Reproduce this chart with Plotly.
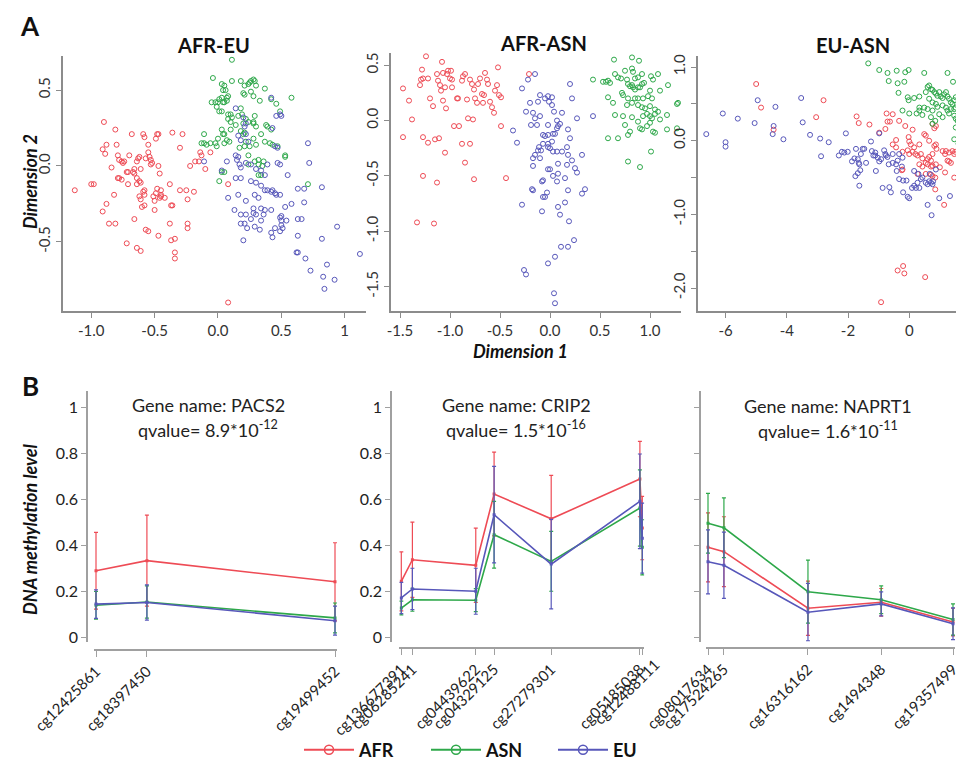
import plotly.graph_objects as go

W, H = 964, 772
RED, GREEN, BLUE = "#EE4B55", "#2EA84A", "#5757BA"
FONT = "Lato"

# ---------------- Panel A: MDS scatter data (Dimension 1, Dimension 2) ----------------
afr_eu_AFR = [(-1.13,-0.16),(-1.00,-0.12),(-0.98,-0.12),(-0.90,0.29),(-0.91,0.11),(-0.89,0.08),(-0.88,0.14),(-0.91,-0.30),(-0.88,-0.25),(-0.86,-0.38),(-0.81,-0.38),(-0.84,-0.01),(-0.81,0.24),(-0.80,0.14),(-0.82,-0.19),(-0.79,0.07),(-0.78,0.04),(-0.76,0.03),(-0.79,-0.08),(-0.78,-0.08),(-0.76,-0.09),(-0.75,0.02),(-0.74,0.03),(-0.72,-0.04),(-0.70,0.07),(-0.71,-0.04),(-0.71,-0.12),(-0.68,0.21),(-0.67,-0.04),(-0.66,-0.05),(-0.66,-0.02),(-0.64,0.03),(-0.64,-0.12),(-0.64,-0.08),(-0.63,0.05),(-0.62,0.06),(-0.62,-0.10),(-0.61,-0.11),(-0.61,-0.02),(-0.59,-0.17),(-0.59,0.21),(-0.58,0.19),(-0.58,-0.19),(-0.57,0.05),(-0.55,0.14),(-0.66,-0.35),(-0.72,-0.51),(-0.64,-0.54),(-0.61,-0.56),(-0.62,-0.20),(-0.61,-0.22),(-0.60,-0.27),(-0.58,-0.16),(-0.57,-0.42),(-0.55,-0.43),(-0.58,-0.26),(-0.55,0.09),(-0.54,0.06),(-0.53,0.04),(-0.53,0.01),(-0.52,0.02),(-0.51,-0.20),(-0.50,-0.23),(-0.49,-0.18),(-0.48,-0.15),(-0.50,-0.29),(-0.48,0.21),(-0.49,0.18),(-0.47,0.21),(-0.47,0.00),(-0.46,-0.05),(-0.45,-0.16),(-0.46,-0.21),(-0.45,-0.19),(-0.45,-0.20),(-0.47,-0.46),(-0.42,-0.21),(-0.38,-0.12),(-0.37,-0.26),(-0.38,-0.38),(-0.37,-0.49),(-0.36,-0.26),(-0.34,-0.48),(-0.36,0.22),(-0.34,-0.57),(-0.34,-0.61),(-0.30,-0.16),(-0.30,0.12),(-0.28,0.21),(-0.25,-0.16),(-0.24,-0.22),(-0.24,-0.38),(-0.24,-0.41),(-0.22,0.00),(-0.19,-0.17),(-0.18,0.03),(-0.15,0.03),(-0.14,0.09),(-0.13,0.07),(-0.10,-0.02),(-0.06,0.09),(0.08,-0.12),(0.08,-0.90)]
afr_eu_ASN = [(0.11,0.70),(-0.04,0.58),(0.03,0.54),(0.04,0.50),(0.05,0.53),(0.06,0.50),(0.11,0.56),(0.18,0.56),(0.21,0.53),(0.24,0.54),(0.25,0.55),(0.26,0.56),(0.28,0.57),(0.29,0.56),(0.30,0.53),(0.37,0.51),(0.26,0.49),(0.20,0.48),(0.21,0.47),(0.28,0.46),(0.33,0.43),(0.42,0.44),(0.46,0.41),(0.58,0.45),(0.49,0.36),(-0.05,0.42),(-0.02,0.42),(0.00,0.42),(0.01,0.44),(0.03,0.45),(0.04,0.42),(0.05,0.42),(0.07,0.43),(0.07,0.45),(0.08,0.46),(-0.01,0.39),(0.01,0.36),(0.03,0.36),(0.08,0.34),(0.10,0.34),(0.08,0.31),(0.10,0.29),(0.11,0.32),(0.14,0.27),(0.16,0.33),(0.18,0.38),(0.19,0.34),(0.20,0.28),(0.22,0.31),(0.24,0.29),(0.29,0.33),(0.28,0.29),(0.28,0.28),(0.30,0.26),(0.38,0.27),(0.39,0.26),(0.42,0.24),(0.18,0.23),(0.20,0.21),(0.21,0.22),(0.22,0.16),(0.10,0.24),(0.03,0.24),(0.04,0.21),(0.05,0.21),(0.07,0.17),(0.05,0.15),(0.00,0.18),(-0.02,0.15),(-0.01,0.13),(-0.06,0.15),(-0.09,0.14),(-0.11,0.15),(-0.11,0.21),(-0.13,0.15),(0.09,0.16),(0.17,0.12),(0.21,0.13),(0.25,0.13),(0.28,0.18),(0.30,0.14),(0.34,0.21),(0.37,0.16),(0.41,0.15),(0.43,0.14),(0.47,0.13),(0.53,0.07),(0.53,0.06),(0.29,0.03),(0.32,0.04),(0.36,0.03),(0.32,0.01),(0.35,0.00),(0.32,-0.06),(0.34,-0.06),(0.24,0.07),(0.24,0.01),(0.05,-0.04),(0.01,-0.10),(0.71,-0.12),(0.03,-0.04)]
afr_eu_EU = [(0.42,0.45),(0.49,0.34),(0.46,0.33),(0.50,0.33),(0.43,0.25),(0.22,0.28),(0.14,0.38),(0.20,0.32),(0.21,0.26),(0.22,0.21),(0.16,0.20),(0.18,0.17),(0.24,0.16),(0.45,0.13),(0.47,0.12),(0.71,0.15),(0.72,0.02),(-0.11,0.03),(0.03,-0.03),(0.07,0.03),(0.14,0.07),(0.16,0.06),(0.15,0.04),(0.17,0.01),(0.18,-0.01),(0.22,0.02),(0.26,0.01),(0.30,-0.02),(0.34,-0.03),(0.37,-0.06),(0.39,0.01),(0.47,0.02),(0.49,0.01),(0.55,-0.06),(0.63,-0.15),(0.68,-0.15),(0.82,-0.14),(0.14,-0.08),(0.18,-0.08),(0.26,-0.10),(0.30,-0.11),(0.34,-0.13),(0.37,-0.16),(0.39,-0.16),(0.42,-0.17),(0.43,-0.16),(0.45,-0.18),(0.46,-0.19),(0.49,-0.19),(0.08,-0.21),(0.16,-0.19),(0.22,-0.23),(0.28,-0.28),(0.34,-0.28),(0.30,-0.32),(0.28,-0.31),(0.36,-0.32),(0.37,-0.29),(0.42,-0.29),(0.53,-0.27),(0.58,-0.25),(0.18,-0.32),(0.22,-0.32),(0.18,-0.38),(0.23,-0.41),(0.33,-0.42),(0.42,-0.44),(0.45,-0.41),(0.49,-0.43),(0.50,-0.36),(0.49,-0.34),(0.50,-0.33),(0.54,-0.36),(0.63,-0.35),(0.66,-0.35),(0.68,-0.24),(0.82,-0.48),(0.63,-0.46),(0.63,-0.57),(0.62,-0.57),(0.69,-0.61),(0.73,-0.69),(0.83,-0.73),(0.86,-0.65),(0.92,-0.75),(0.84,-0.81),(0.94,-0.40),(1.12,-0.58),(0.50,-0.39),(0.51,-0.41),(0.43,-0.47),(0.34,-0.36),(0.29,-0.40),(0.20,-0.49),(0.21,-0.38),(0.13,-0.29),(0.26,-0.35),(0.29,-0.19),(0.32,-0.21)]

afr_asn_AFR = [(-1.24,0.58),(-1.08,0.53),(-1.28,0.46),(-1.47,0.29),(-1.41,0.18),(-1.38,0.01),(-1.47,-0.15),(-1.29,0.37),(-1.30,0.32),(-1.27,0.38),(-1.22,0.38),(-1.20,0.20),(-1.17,0.13),(-1.13,0.42),(-1.12,0.36),(-1.10,0.32),(-1.09,0.27),(-1.07,0.43),(-1.07,0.18),(-1.05,0.30),(-1.04,0.11),(-1.03,0.42),(-1.02,0.45),(-1.00,0.38),(-0.99,0.45),(-0.98,0.37),(-0.98,0.30),(-0.96,-0.05),(-0.93,0.20),(-0.92,0.20),(-0.91,-0.05),(-0.88,0.36),(-0.87,0.40),(-0.85,0.42),(-0.83,0.19),(-0.82,0.02),(-0.80,0.37),(-0.78,0.33),(-0.77,0.01),(-0.76,0.28),(-0.75,0.20),(-0.73,0.16),(-0.72,0.33),(-0.70,0.38),(-0.68,0.24),(-0.67,0.16),(-0.66,0.23),(-0.65,0.43),(-0.63,0.37),(-0.62,0.33),(-0.60,0.17),(-0.58,0.12),(-0.56,0.07),(-0.55,0.27),(-0.53,0.32),(-0.52,0.48),(-0.51,0.23),(-0.49,0.21),(-0.49,-0.05),(-1.27,-0.15),(-1.22,-0.20),(-1.15,-0.17),(-1.11,-0.16),(-1.05,-0.29),(-0.88,-0.21),(-0.85,-0.38),(-0.80,-0.21),(-0.76,-0.53),(-1.27,-0.50),(-1.13,-0.56),(-0.44,-0.52),(-1.33,-0.92),(-1.16,-0.93),(-0.21,0.42)]
afr_asn_ASN = [(0.64,0.55),(0.82,0.57),(0.89,0.54),(0.65,0.42),(0.75,0.45),(0.82,0.47),(0.83,0.44),(0.92,0.42),(1.01,0.40),(1.08,0.42),(0.43,0.37),(0.53,0.35),(0.56,0.35),(0.58,0.36),(0.60,0.34),(0.68,0.39),(0.71,0.38),(0.77,0.37),(0.85,0.38),(0.88,0.39),(1.03,0.37),(1.18,0.32),(0.78,0.33),(0.80,0.31),(0.82,0.32),(0.83,0.30),(0.85,0.28),(0.88,0.30),(0.90,0.30),(0.92,0.33),(0.94,0.34),(1.00,0.27),(1.10,0.27),(0.72,0.25),(0.73,0.23),(0.78,0.20),(0.85,0.20),(0.88,0.20),(0.93,0.20),(0.98,0.22),(1.02,0.20),(0.58,0.21),(0.63,0.16),(0.77,0.14),(0.82,0.16),(0.88,0.14),(0.92,0.12),(0.95,0.11),(1.00,0.13),(1.05,0.10),(1.08,0.08),(1.27,0.15),(1.28,0.16),(0.65,0.05),(0.73,0.04),(0.82,0.03),(0.88,-0.01),(0.93,0.04),(0.97,0.06),(1.00,0.04),(1.02,0.02),(1.05,0.06),(1.10,0.01),(1.17,0.05),(0.75,-0.04),(0.80,-0.10),(0.90,-0.07),(0.92,-0.08),(0.97,-0.05),(1.00,-0.02),(1.03,-0.10),(1.05,-0.11),(1.17,-0.08),(1.27,-0.07),(0.58,-0.16),(0.68,-0.16),(0.78,-0.13),(0.78,-0.37),(0.90,-0.42),(1.01,-0.28)]
afr_asn_EU = [(-0.15,0.42),(-0.22,0.37),(-0.28,0.29),(0.20,0.33),(-0.10,0.23),(-0.02,0.22),(0.02,0.21),(-0.05,0.20),(-0.01,0.17),(-0.12,0.17),(0.02,0.14),(-0.20,0.16),(0.22,0.20),(-0.24,0.08),(-0.17,0.07),(-0.15,0.02),(-0.10,0.04),(0.04,0.08),(0.12,0.07),(0.27,0.02),(-0.19,-0.04),(-0.13,-0.04),(-0.02,-0.04),(0.07,0.00),(0.10,-0.03),(-0.37,-0.09),(-0.07,-0.13),(-0.05,-0.14),(-0.02,-0.13),(0.03,-0.12),(0.05,-0.12),(0.07,-0.07),(0.08,-0.05),(0.18,-0.08),(-0.33,-0.20),(0.20,-0.16),(-0.07,-0.21),(-0.02,-0.21),(0.02,-0.19),(-0.11,-0.24),(-0.12,-0.27),(-0.09,-0.27),(-0.02,-0.24),(0.00,-0.25),(0.03,-0.28),(0.07,-0.28),(0.12,-0.28),(0.17,-0.24),(-0.15,-0.31),(-0.17,-0.34),(-0.10,-0.34),(0.18,-0.31),(0.22,-0.36),(0.32,-0.31),(-0.17,-0.41),(-0.02,-0.44),(0.00,-0.44),(0.08,-0.39),(0.17,-0.40),(0.25,-0.43),(0.27,-0.47),(0.03,-0.50),(0.08,-0.48),(0.15,-0.52),(-0.08,-0.55),(-0.07,-0.54),(0.07,-0.55),(-0.18,-0.62),(-0.17,-0.63),(-0.03,-0.65),(0.18,-0.63),(0.32,-0.66),(0.35,-0.62),(-0.07,-0.69),(-0.05,-0.69),(-0.28,-0.76),(-0.08,-0.82),(0.08,-0.78),(0.15,-0.74),(0.10,-0.85),(0.19,-0.91),(0.24,-1.08),(0.11,-1.14),(0.18,-1.14),(0.05,-1.23),(-0.02,-1.29),(-0.26,-1.35),(-0.24,-1.39),(0.04,-1.56),(0.05,-1.65),(0.43,0.04)]

eu_asn_AFR = [(-5.00,0.77),(-4.84,0.45),(-4.43,0.15),(-2.80,0.55),(-3.04,0.32),(-1.72,0.33),(-1.65,0.24),(-1.30,0.22),(-0.98,0.11),(-0.74,0.37),(-0.54,0.36),(-0.71,0.26),(-0.63,0.26),(-0.78,0.16),(-0.33,0.27),(-0.13,0.20),(0.11,0.15),(0.76,0.23),(0.82,0.17),(0.87,0.20),(-0.43,0.01),(-0.02,0.05),(0.00,-0.01),(0.05,-0.05),(0.16,-0.09),(0.33,-0.05),(0.49,0.09),(0.54,0.07),(0.65,0.00),(-0.54,-0.05),(-0.43,-0.09),(-0.22,-0.15),(-0.05,-0.13),(0.00,-0.18),(0.11,-0.15),(0.20,-0.18),(0.27,-0.20),(0.38,-0.18),(0.43,-0.24),(0.60,-0.25),(0.65,-0.22),(0.71,-0.27),(0.76,-0.18),(0.82,-0.07),(0.87,-0.05),(0.89,-0.11),(1.09,-0.14),(1.17,-0.18),(1.20,-0.14),(1.30,-0.16),(1.41,-0.14),(1.47,-0.18),(1.50,-0.15),(0.54,-0.30),(0.60,-0.32),(0.76,-0.34),(0.87,-0.32),(1.25,-0.27),(1.30,-0.28),(1.36,-0.30),(0.33,-0.32),(0.43,-0.35),(0.71,-0.35),(1.00,-0.36),(1.17,-0.43),(-0.22,-0.39),(-0.24,-0.40),(0.27,-0.45),(0.54,-0.45),(0.71,-0.46),(0.76,-0.48),(0.85,-0.50),(1.47,-0.50),(1.90,-0.52),(0.85,-0.66),(1.14,-0.87),(1.63,-0.83),(-0.20,-1.70),(-0.38,-1.76),(-0.16,-1.80),(0.52,-1.85),(-0.92,-2.19)]
eu_asn_ASN = [(-1.34,1.05),(-0.98,0.96),(-0.71,0.92),(-0.41,0.95),(-0.13,0.93),(-0.02,0.96),(-0.67,0.81),(-0.38,0.78),(-0.16,0.80),(0.49,0.92),(1.25,0.92),(1.43,0.80),(-0.35,0.65),(-0.05,0.59),(-0.02,0.55),(0.16,0.58),(0.33,0.60),(0.54,0.66),(0.60,0.73),(0.65,0.75),(0.71,0.70),(0.76,0.69),(0.82,0.66),(0.87,0.64),(0.92,0.61),(0.98,0.66),(1.03,0.60),(1.09,0.58),(1.14,0.63),(1.20,0.66),(1.25,0.60),(1.30,0.57),(1.36,0.52),(1.41,0.50),(1.47,0.55),(1.52,0.59),(0.65,0.57),(0.76,0.52),(0.87,0.50),(0.92,0.46),(1.09,0.48),(1.20,0.45),(1.25,0.41),(1.36,0.43),(1.47,0.43),(1.52,0.45),(0.33,0.45),(0.49,0.45),(0.60,0.43),(0.76,0.41),(-0.22,0.41),(0.00,0.37),(0.24,0.37),(0.43,0.35),(0.98,0.36),(1.09,0.32),(1.30,0.37),(1.47,0.34),(1.52,0.30),(1.58,0.27),(1.63,0.25),(1.68,0.23),(1.74,0.27),(1.85,0.25),(0.71,0.32),(0.85,0.27),(1.52,0.18),(1.63,0.16),(1.47,0.02),(1.61,-0.04),(0.76,0.23),(0.33,0.41)]
eu_asn_EU = [(-6.63,0.09),(-6.09,0.37),(-6.00,-0.02),(-6.00,-0.08),(-5.60,0.30),(-5.05,0.24),(-4.95,0.55),(-4.46,0.09),(-4.43,0.20),(-4.37,0.46),(-4.11,0.02),(-3.53,0.58),(-3.48,0.25),(-3.24,0.08),(-2.91,0.03),(-2.88,-0.21),(-2.63,-0.02),(-2.30,-0.20),(-2.20,-0.15),(-2.12,-0.16),(-2.01,-0.15),(-2.07,0.10),(-1.87,-0.28),(-1.79,-0.24),(-1.74,-0.11),(-1.68,-0.25),(-1.65,-0.30),(-1.63,-0.32),(-1.58,-0.18),(-1.52,-0.11),(-1.47,-0.11),(-1.41,-0.30),(-1.60,-0.40),(-1.68,-0.44),(-1.76,-0.48),(-1.63,-0.61),(-1.25,-0.01),(-1.22,-0.14),(-1.17,-0.20),(-1.11,-0.20),(-1.03,-0.23),(-0.98,-0.28),(-0.92,-0.25),(-0.82,-0.13),(-0.78,-0.18),(-0.76,-0.20),(-0.71,-0.22),(-0.67,-0.32),(-0.54,-0.30),(-0.43,-0.32),(-0.38,-0.27),(-0.41,-0.41),(-0.24,-0.35),(-0.33,-0.52),(-0.20,-0.54),(-0.09,-0.54),(-1.09,-0.41),(-0.87,-0.64),(-0.65,-0.63),(-0.60,-0.70),(-0.20,-0.70),(-0.05,-0.76),(0.00,-0.78),(0.09,-0.64),(0.16,-0.61),(0.22,-0.64),(0.16,-0.41),(0.30,-0.45),(0.38,-0.52),(0.43,-0.50),(0.54,-0.57),(0.60,-0.59),(0.65,-0.55),(0.71,-0.57),(0.76,-0.59),(0.78,-0.55),(0.27,-0.57),(0.33,-0.64),(0.67,-0.45),(0.87,-0.39),(0.98,-0.78),(1.33,-0.75),(0.60,-0.87),(0.73,-1.01),(-0.22,-0.23),(-0.33,-0.18),(-0.54,-0.18),(-0.98,0.10),(-1.11,-0.16)]

# ---------------- Panel B: methylation level per probe ----------------
pacs2_probes = ["cg12425861", "cg18397450", "cg19499452"]
pacs2_pos = [0.0, 0.213, 1.0]
pacs2_AFR = [0.288, 0.332, 0.240]; pacs2_AFR_sd = [0.167, 0.198, 0.170]
pacs2_ASN = [0.138, 0.152, 0.083]; pacs2_ASN_sd = [0.060, 0.070, 0.065]
pacs2_EU = [0.143, 0.150, 0.071];  pacs2_EU_sd = [0.062, 0.077, 0.063]

crip2_probes = ["cg136677391", "cg06285241", "cg04439622", "cg04329125", "cg27279301", "cg05185038", "cg12488111"]
crip2_pos = [0.0, 0.046, 0.309, 0.385, 0.622, 0.990, 1.0]
crip2_AFR = [0.242, 0.336, 0.312, 0.622, 0.514, 0.687, 0.474]; crip2_AFR_sd = [0.128, 0.164, 0.162, 0.182, 0.189, 0.164, 0.138]
crip2_ASN = [0.126, 0.162, 0.160, 0.445, 0.329, 0.561, 0.390]; crip2_ASN_sd = [0.030, 0.050, 0.050, 0.145, 0.130, 0.166, 0.120]
crip2_EU = [0.170, 0.209, 0.199, 0.532, 0.317, 0.590, 0.430];  crip2_EU_sd = [0.068, 0.090, 0.100, 0.210, 0.195, 0.206, 0.152]

naprt1_probes = ["cg08017634", "cg17524265", "cg16316162", "cg1494348", "cg19357499"]
naprt1_pos = [0.0, 0.065, 0.408, 0.707, 1.0]
naprt1_AFR = [0.390, 0.371, 0.125, 0.151, 0.065]; naprt1_AFR_sd = [0.150, 0.152, 0.118, 0.060, 0.060]
naprt1_ASN = [0.495, 0.475, 0.197, 0.162, 0.076]; naprt1_ASN_sd = [0.130, 0.130, 0.137, 0.060, 0.068]
naprt1_EU = [0.327, 0.312, 0.108, 0.144, 0.058];  naprt1_EU_sd = [0.139, 0.144, 0.125, 0.052, 0.069]

y_ticks_B = [0, 0.2, 0.4, 0.6, 0.8, 1]
y_ticktext_B = ["0", "0.2", "0.4", "0.6", "0.8", "1"]

groups = ["AFR", "ASN", "EU"]
colors = {"AFR": RED, "ASN": GREEN, "EU": BLUE}

def px_x(p):
    return p / W

def px_y(p):
    return 1 - p / H

fig = go.Figure()

# Panel A scatter traces
panelA = [
    ("", {"AFR": afr_eu_AFR, "ASN": afr_eu_ASN, "EU": afr_eu_EU}),
    ("2", {"AFR": afr_asn_AFR, "ASN": afr_asn_ASN, "EU": afr_asn_EU}),
    ("3", {"AFR": eu_asn_AFR, "ASN": eu_asn_ASN, "EU": eu_asn_EU}),
]
for suffix, d in panelA:
    for g in groups:
        pts = d[g]
        fig.add_trace(go.Scatter(
            x=[p[0] for p in pts], y=[p[1] for p in pts], mode="markers",
            marker=dict(symbol="circle-open", size=5, color=colors[g], line=dict(width=1, color=colors[g])),
            xaxis="x" + suffix, yaxis="y" + suffix, showlegend=False, hoverinfo="skip"))

# Panel B line traces
panelB = [
    ("4", pacs2_pos, {"AFR": (pacs2_AFR, pacs2_AFR_sd), "ASN": (pacs2_ASN, pacs2_ASN_sd), "EU": (pacs2_EU, pacs2_EU_sd)}),
    ("5", crip2_pos, {"AFR": (crip2_AFR, crip2_AFR_sd), "ASN": (crip2_ASN, crip2_ASN_sd), "EU": (crip2_EU, crip2_EU_sd)}),
    ("6", naprt1_pos, {"AFR": (naprt1_AFR, naprt1_AFR_sd), "ASN": (naprt1_ASN, naprt1_ASN_sd), "EU": (naprt1_EU, naprt1_EU_sd)}),
]
for suffix, pos, d in panelB:
    for g in groups:
        m, sd = d[g]
        fig.add_trace(go.Scatter(
            x=pos, y=m, mode="lines+markers",
            line=dict(color=colors[g], width=1.6),
            marker=dict(symbol="square", size=3, color=colors[g]),
            error_y=dict(type="data", array=sd, visible=True, color=colors[g], thickness=1.2, width=2),
            xaxis="x" + suffix, yaxis="y" + suffix, showlegend=False, hoverinfo="skip"))

# legend entries
for g in groups:
    fig.add_trace(go.Scatter(
        x=[None], y=[None], mode="lines+markers", name=g,
        line=dict(color=colors[g], width=2),
        marker=dict(symbol="circle-open", size=9, color=colors[g], line=dict(width=1.5, color=colors[g])),
        xaxis="x4", yaxis="y4", showlegend=True))

AX = "#8c8c8c"
tickfontA = dict(family=FONT, size=15, color="#333")
baseA = dict(showline=True, linecolor=AX, linewidth=1.5, ticks="outside", ticklen=5, tickcolor=AX,
             showgrid=False, zeroline=False, tickfont=tickfontA)

layout = dict(
    width=W, height=H, margin=dict(l=0, r=0, t=0, b=0, pad=0, autoexpand=False),
    paper_bgcolor="white", plot_bgcolor="white",
    font=dict(family=FONT, color="#222"),
    # A1
    xaxis=dict(baseA, domain=[px_x(55), px_x(358)], range=[-1.223, 1.168], anchor="y",
               tickvals=[-1, -0.5, 0, 0.5, 1], ticktext=["-1.0", "-0.5", "0.0", "0.5", "1"]),
    yaxis=dict(baseA, domain=[px_y(303), px_y(48)], range=[-0.956, 0.725], anchor="x",
               tickvals=[-0.5, 0, 0.5], ticktext=["-0.5", "0.0", "0.5"], tickangle=-90),
    # A2
    xaxis2=dict(baseA, domain=[px_x(383), px_x(673)], range=[-1.59, 1.31], anchor="y2",
                tickvals=[-1.5, -1, -0.5, 0, 0.5, 1], ticktext=["-1.5", "-1.0", "-0.5", "0.0", "0.5", "1.0"]),
    yaxis2=dict(baseA, domain=[px_y(303), px_y(45)], range=[-1.72, 0.61], anchor="x2",
                tickvals=[-1.5, -1, -0.5, 0, 0.5], ticktext=["-1.5", "-1.0", "-0.5", "0.0", "0.5"], tickangle=-90),
    # A3
    xaxis3=dict(baseA, domain=[px_x(690), 1.0], range=[-6.9, 2.05], anchor="y3",
                tickvals=[-6, -4, -2, 0, 2], ticktext=["-6", "-4", "-2", "0", "2"],
                ticklabeloverflow="allow"),
    yaxis3=dict(baseA, domain=[px_y(303), px_y(48)], range=[-2.31, 1.15], anchor="x3",
                tickvals=[-2, -1, 0, 1], ticktext=["-2.0", "-1.0", "0.0", "1.0"], tickangle=-90,
                minor=dict(tickvals=[-1.5, -0.5, 0.5], ticks="outside", ticklen=5, tickcolor=AX, showgrid=False)),
)

BX = "#a0a0a0"
BXFONT = dict(family=FONT, size=15, color="#222")
baseBx = dict(showline=True, linecolor=BX, linewidth=1.5, ticks="outside", ticklen=6, tickcolor=BX,
              showgrid=False, zeroline=False, tickangle=-45, tickfont=BXFONT)
baseBy = dict(showline=True, linecolor=BX, linewidth=1.5, ticks="outside", ticklen=5, tickcolor=BX,
              showgrid=False, zeroline=False, range=[-0.02, 1.07],
              tickfont=dict(family=FONT, size=16, color="#222"),
              domain=[px_y(633.6), px_y(383)])

def xrange(first_px, last_px):
    span = last_px - first_px
    return [-2 / span, 1 + 2 / span], [px_x(first_px - 2), px_x(last_px + 2)]

for suffix, probes, pos, first_px, last_px, yaxis_px, xline_px, labels in [
    ("4", pacs2_probes, pacs2_pos, 88, 327, 79, 642, True),
    ("5", crip2_probes, crip2_pos, 393.3, 634.3, 383, 640, True),
    ("6", naprt1_probes, naprt1_pos, 700, 945, 692, 640, False),
]:
    rng, dom = xrange(first_px, last_px)
    ax = dict(baseBx, domain=dom, range=rng, anchor="free", position=px_y(xline_px),
              tickvals=pos, ticktext=probes)
    if suffix == "5":
        # last two probes nearly coincide: label the last one on an overlaid axis, shifted aside
        ax["tickvals"] = pos[:-1]
        ax["ticktext"] = probes[:-1]
        ax["minor"] = dict(tickvals=[pos[-1]], ticks="outside", ticklen=6, tickcolor=BX, showgrid=False)
        layout["xaxis7"] = dict(overlaying="x5", anchor="free", position=px_y(xline_px), range=rng,
                                showline=False, ticks="", showgrid=False, zeroline=False,
                                tickangle=-45, tickfont=BXFONT, tickvals=[pos[-1]], ticktext=[probes[-1]],
                                ticklabelshift=13, ticklabelstandoff=4)
    layout["xaxis" + suffix] = ax
    yax = dict(baseBy, anchor="free", position=px_x(yaxis_px))
    if labels:
        yax.update(tickvals=y_ticks_B, ticktext=y_ticktext_B)
    else:
        yax.update(tickvals=[], showticklabels=False,
                   minor=dict(tickvals=y_ticks_B, ticks="outside", ticklen=5, tickcolor=BX, showgrid=False))
    layout["yaxis" + suffix] = yax

layout["legend"] = dict(orientation="h", x=px_x(291), y=px_y(742), xanchor="left", yanchor="middle",
                        itemwidth=50, entrywidthmode="pixels", entrywidth=62,
                        font=dict(family=FONT, size=18, color="#111", weight="bold"),
                        bgcolor="rgba(0,0,0,0)")

fig.update_layout(**layout)

# invisible trace so the overlaid label axis is drawn
fig.add_trace(go.Scatter(x=[crip2_pos[-1]], y=[crip2_AFR[-1]], mode="markers", marker=dict(opacity=0),
                         xaxis="x7", yaxis="y5", showlegend=False, hoverinfo="skip"))

ann = []
def add_text(x, y, text, size, bold=False, italic=False, angle=0, color="#111"):
    t = text
    if italic:
        t = "<i>" + t + "</i>"
    if bold:
        t = "<b>" + t + "</b>"
    ann.append(dict(x=px_x(x), y=px_y(y), xref="paper", yref="paper", text=t, showarrow=False,
                    xanchor="center", yanchor="middle", textangle=angle,
                    font=dict(family=FONT, size=size, color=color)))

add_text(22, 18, "A", 26, bold=True)
add_text(22, 378, "B", 26, bold=True)
add_text(205, 37, "AFR-EU", 20, bold=True)
add_text(535, 35, "AFR-ASN", 20, bold=True)
add_text(845, 37, "EU-ASN", 20, bold=True)
add_text(22, 174, "Dimension 2", 18, bold=True, italic=True, angle=-90)
add_text(512, 343, "Dimension 1", 18, bold=True, italic=True)
add_text(22, 522, "DNA methylation level", 18, bold=True, italic=True, angle=-90)
add_text(200, 397, "Gene name: PACS2", 18, color="#222")
add_text(200, 421, "qvalue= 8.9*10<sup>-12</sup>", 18, color="#222")
add_text(508, 397, "Gene name: CRIP2", 18, color="#222")
add_text(508, 421, "qvalue= 1.5*10<sup>-16</sup>", 18, color="#222")
add_text(820, 398, "Gene name: NAPRT1", 18, color="#222")
add_text(820, 422, "qvalue= 1.6*10<sup>-11</sup>", 18, color="#222")
fig.update_layout(annotations=ann)

fig.write_html("out.html")
